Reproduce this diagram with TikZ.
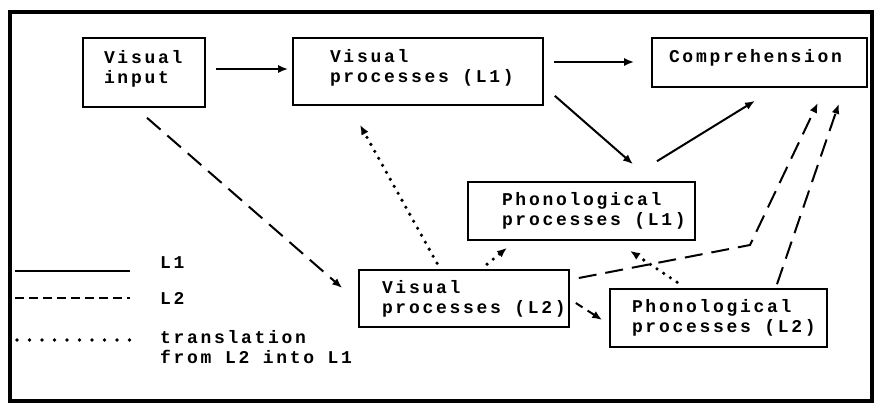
\documentclass[tikz,border=0pt]{standalone}
\usepackage{fontspec}
\setmainfont{Liberation Mono}[LetterSpace=15]
\usetikzlibrary{arrows.meta,calc}

\newcommand{\gap}{\hspace*{13.5pt}}

\tikzset{
  box/.style={draw, line width=1.6pt, align=left, inner ysep=0pt,
    font=\fontsize{18}{20}\selectfont\bfseries},
  key/.style={anchor=west, align=left, inner sep=0pt,
    font=\fontsize{18}{20}\selectfont\bfseries},
  tip/.style={-{Latex[length=10pt,width=8pt]}},
  lone/.style={line width=2pt, tip},
  ltwo/.style={line width=2pt, dash pattern=on 18pt off 9pt, tip},
  ltrans/.style={line width=3.6pt, line cap=round, dash pattern=on 0pt off 8pt, tip},
}

\begin{document}
\begin{tikzpicture}[x=1pt, y=-1pt]

  \useasboundingbox (0,0) rectangle (874,404);
  \draw[line width=3.5pt] (10,12) rectangle (872,401);

  % boxes
  \node[box, minimum height=69pt, text width=80pt, inner xsep=21pt, text depth=32pt] (vi) at (144,72.5) {Visual\\input};
  \node[box, minimum height=67pt, text width=176pt, inner xsep=37pt, text depth=32pt] (vp1) at (418,71.5) {Visual\\\mbox{processes\gap(L1)}};
  \node[box, minimum height=49pt, text width=181pt, inner xsep=17pt, text depth=13pt] (comp) at (759.5,62.5) {Comprehension};
  \node[box, minimum height=58pt, text width=159pt, inner xsep=34pt] (ph1) at (581.5,211) {Phonological\\\mbox{processes\gap(L1)}};
  \node[box, minimum height=57pt, text width=164pt, inner xsep=23pt] (vp2) at (464,298.5) {Visual\\\mbox{processes\gap(L2)}};
  \node[box, minimum height=58pt, text width=173pt, inner xsep=22pt] (ph2) at (718.5,318) {Phonological\\\mbox{processes\gap(L2)}};

  % L1
  \draw[lone] ($(vi.east)+(10,-3.5)$) -- ($(vp1.west)+(-4,-2.5)$);
  \draw[lone] ($(vp1.east)+(10,-9.5)$) -- ($(comp.west)+(-17,-0.5)$);
  \draw[lone] ($(vp1.south east)+(11,-10)$) -- ($(ph1.north)+(51.5,-17)$);
  \draw[lone] ($(ph1.north)+(75.5,-20)$) -- ($(comp.south)+(-4.5,13)$);

  % L2
  \coordinate (kink) at (750,245);
  \draw[ltwo] ($(vi.south)+(3,10)$) -- ($(vp2.west)+(-16,-10.5)$);
  \draw[ltwo, dash pattern=on 8pt off 6pt] ($(vp2.east)+(6,4.5)$) -- ($(ph2.west)+(-7,2)$);
  \draw[ltwo] ($(vp2.east)+(9,-20.5)$) -- (kink) -- ($(comp.south east)+(-50,15)$);
  \draw[ltwo] ($(ph2.north)+(58.5,-4)$) -- ($(comp.south east)+(-29,16)$);

  % translation
  \draw[ltrans] ($(vp2.north)+(-27,-6)$) -- ($(vp1.south)+(-58,19)$);
  \draw[ltrans] ($(vp2.north)+(23,-5)$) -- ($(ph1.south)+(-74.5,7)$);
  \draw[ltrans] ($(ph2.north)+(-41.5,-6)$) -- ($(ph1.south)+(48.5,10)$);

  % legend
  \coordinate (a1) at (15,271);  \coordinate (b1) at (130,271);
  \coordinate (a2) at (15,298);  \coordinate (b2) at (130,298);
  \coordinate (a3) at (17,340);  \coordinate (b3) at (130,340);
  \draw[line width=2pt] (a1) -- (b1);
  \draw[line width=2pt, dash pattern=on 9pt off 5pt] (a2) -- (b2);
  \draw[line width=3.6pt, line cap=round, dash pattern=on 0pt off 12.5pt] (a3) -- (b3);
  \node[key] (kone) at (160,263) {L1};
  \node[key] (ktwo) at (160,298) {L2};
  \node[key] (ktr) at (160,347) {translation\\from L2 into L1};

\end{tikzpicture}
\end{document}
